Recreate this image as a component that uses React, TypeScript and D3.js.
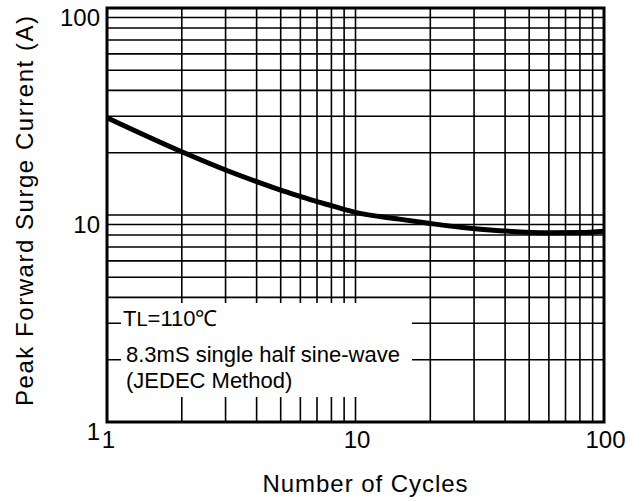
import * as d3 from 'd3';

// curve (cycles -> peak current in A)
const cycles = [1, 2, 3, 4, 5, 6, 7, 8, 10, 15, 20, 27, 38, 60, 80, 100];
const current = [29.5, 20.2, 16.5, 14.5, 13.2, 12.3, 11.6, 11.1, 10.3, 9.55, 9.1, 8.7, 8.4, 8.2, 8.22, 8.35];

const xTickLabels = [1, 10, 100];
const yTickLabels = [1, 10, 100];

const noteLines = ['8.3mS single half sine-wave', '(JEDEC Method)'];

const W = 641;
const H = 502;
const font = '"Liberation Sans", Arial, sans-serif';

const App = () => {
  const x = d3.scaleLog().domain([1, 100]).range([107, 604]);
  const y = d3.scaleLog().domain([1, 100]).range([422, 8]);

  const pts = cycles.map((c, i) => [x(c), y(current[i])] as [number, number]);
  const line = d3.line().curve(d3.curveMonotoneX)(pts) as string;

  const xGrid = x.ticks();
  const yGrid = y.ticks();

  // white note box that hides the grid
  const box = { x0: 121, x1: 412, y0: 303, y1: 397 };

  return (
    <svg width={W} height={H} style={{ position: 'absolute', left: 0, top: 0 }} fontFamily={font}>
      <rect width={W} height={H} fill="#fff" />

      {/* grid */}
      {xGrid.map((v) => (
        <line key={'gx' + v} x1={x(v)} x2={x(v)} y1={y(100)} y2={y(1)} stroke="#000" strokeWidth={1.6} />
      ))}
      {yGrid.map((v) => (
        <line key={'gy' + v} x1={x(1)} x2={x(100)} y1={y(v)} y2={y(v)} stroke="#000" strokeWidth={1.6} />
      ))}

      <rect x={box.x0} y={box.y0} width={box.x1 - box.x0} height={box.y1 - box.y0} fill="#fff" />

      {/* curve */}
      <path d={line} fill="none" stroke="#000" strokeWidth={5} strokeLinejoin="round" />

      {/* frame */}
      <rect x={x(1)} y={y(100)} width={x(100) - x(1)} height={y(1) - y(100)} fill="none" stroke="#000" strokeWidth={3} />

      {/* tick labels */}
      {yTickLabels.map((v) => (
        <text key={'ty' + v} x={100} y={y(v) + 18} textAnchor="end" fontSize={24} fill="#000">
          {v}
        </text>
      ))}
      {xTickLabels.map((v) => (
        <text key={'tx' + v} x={x(v) + 1.5} y={448} textAnchor="middle" fontSize={24} fill="#000">
          {v}
        </text>
      ))}

      {/* axis titles */}
      <text x={365} y={492} textAnchor="middle" fontSize={24} textLength={205} fill="#000">
        Number of Cycles
      </text>
      <text
        transform="translate(33,211) rotate(-90)"
        textAnchor="middle"
        fontSize={24}
        textLength={390}
        fill="#000"
      >
        Peak Forward Surge Current (A)
      </text>

      {/* note */}
      <text x={123} y={325.5} fontSize={22} fill="#000">
        T<tspan fontSize={20}>L</tspan>=110℃
      </text>
      {noteLines.map((t, i) => (
        <text key={t} x={126} y={[362, 388][i]} fontSize={22} fill="#000">
          {t}
        </text>
      ))}
    </svg>
  );
};

export default App;
